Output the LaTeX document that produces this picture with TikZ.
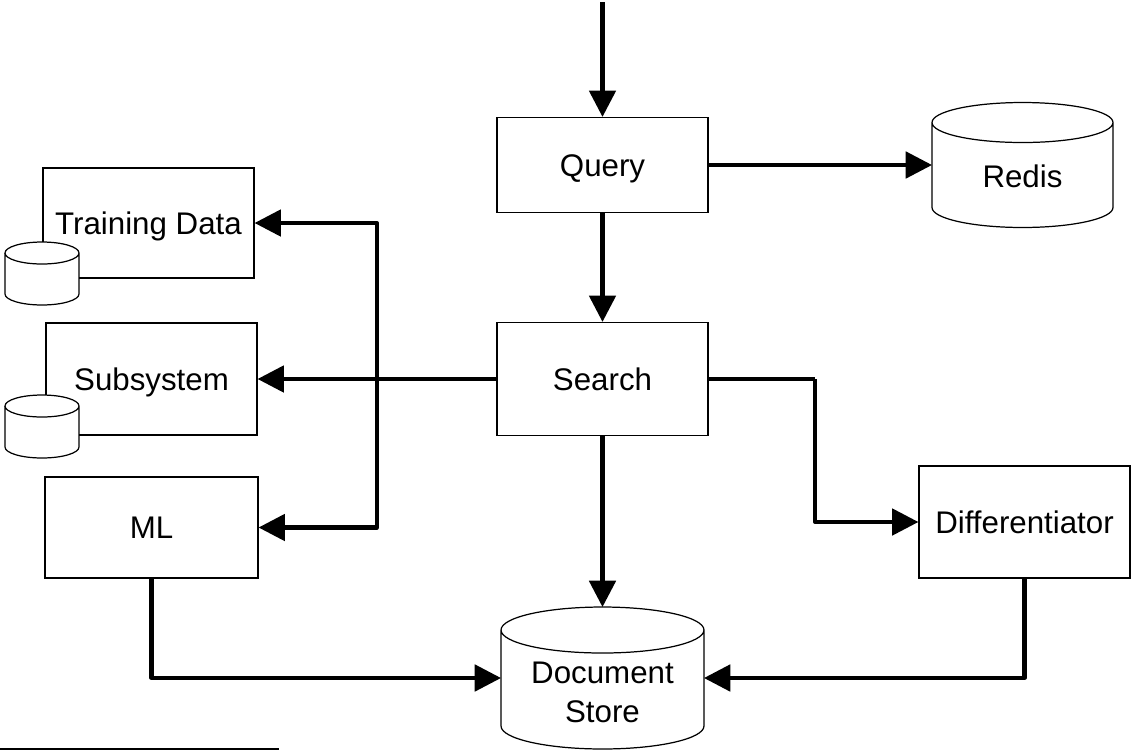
\documentclass[tikz,border=0pt]{standalone}
\usepackage{fontspec}
\setmainfont{Liberation Sans}
\usetikzlibrary{arrows.meta}

\begin{document}
\begin{tikzpicture}
	[x=0.02cm,y=-0.02cm,
	every node/.style={font=\fontsize{17.8}{22}\selectfont},
	box/.style={rectangle,draw=black,line width=0.7pt,fill=white,minimum width=4.22cm,text height=12.7pt,text depth=0pt},
	store/.style={rectangle,outer sep=0pt,inner sep=0pt},
	thinline/.style={line width=0.7pt},
	flow/.style={line width=2.3pt,line join=round,-{Triangle[length=15pt,width=15pt]}}]
	\useasboundingbox (0,0) rectangle (1133,751);
	
	\node[box,minimum height=1.9cm] (query) at (602.5,165) {Query};
	\node[box,minimum height=2.26cm] (search) at (602.5,379) {Search};
	\node[box,minimum height=2.2cm] (tdata) at (148.5,223) {Training Data};
	\node[box,minimum height=2.24cm] (subsys) at (151.5,379) {Subsystem};
	\node[box,minimum width=4.26cm,minimum height=2.02cm] (ml) at (151.5,527.5) {ML};
	\node[box,minimum height=2.24cm] (diff) at (1024.5,522) {Differentiator};
	\node[store,minimum width=3.62cm,minimum height=2.5cm,label={[yshift=-0.23cm]center:Redis}] (redis) at (1022.5,165) {};
	\node[store,minimum width=4.06cm,minimum height=2.84cm,label={[align=center,yshift=-0.29cm]center:Document\\Store}] (docstore) at (602.5,678) {};
	\node[store,minimum width=1.48cm,minimum height=1.26cm] (tdstore) at (42,273.5) {};
	\node[store,minimum width=1.48cm,minimum height=1.26cm] (subsstore) at (42,426.5) {};
	
	% cylinders
	\foreach \cyl/\rx/\ry/\bg in {redis/1.81cm/0.4cm/none,docstore/2.03cm/0.46cm/none,tdstore/0.74cm/0.22cm/white,subsstore/0.74cm/0.22cm/white}
	\draw[thinline,fill=\bg] ([yshift=-\ry]\cyl.north west) -- ([yshift=\ry]\cyl.south west)
		arc[start angle=180,end angle=360,x radius=\rx,y radius=\ry] -- ([yshift=-\ry]\cyl.north east)
		arc[start angle=0,end angle=180,x radius=\rx,y radius=\ry] -- cycle
		([yshift=-\ry]\cyl.north west) arc[start angle=180,end angle=360,x radius=\rx,y radius=\ry];
	
	\coordinate (entry) at (602.5,2);
	\coordinate (split) at (377,379);
	\coordinate (dturn) at (815,379);
	
	\foreach \from/\to in {entry/query.north,query/redis,query/search,search/subsys,search/docstore}
	\draw[flow] (\from) -- (\to);
	\foreach \from/\to in {split/tdata.east,split/ml.east,ml.south/docstore.west,diff.south/docstore.east,dturn/diff.west}
	\draw[flow] (\from) |- (\to);
	\draw[line width=2.3pt] (search.east) -- (dturn);
	
	\draw[thinline] (0,749) -- (279,749);
\end{tikzpicture}
\end{document}
